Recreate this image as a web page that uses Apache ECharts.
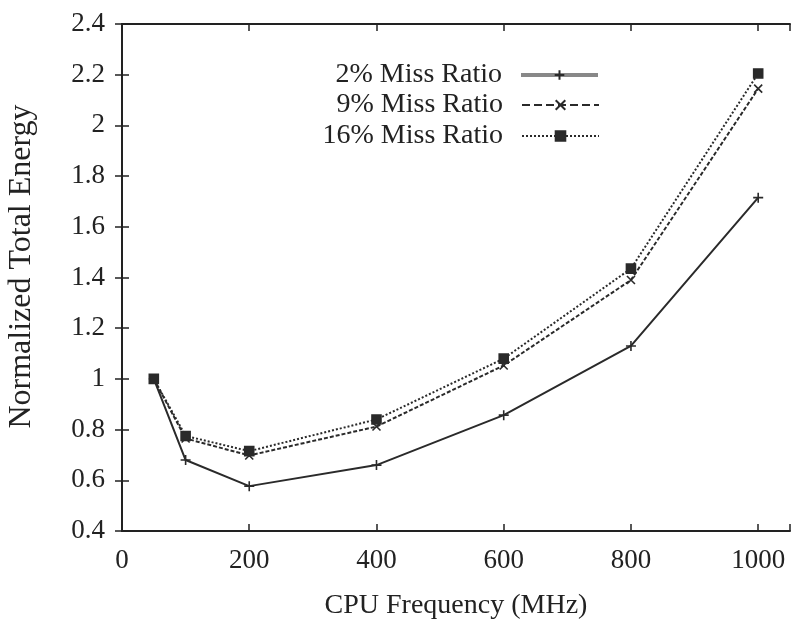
<!DOCTYPE html>
<html>
<head>
<meta charset="utf-8">
<script src="https://cdn.jsdelivr.net/npm/echarts@6/dist/echarts.min.js"></script>
<style>
  html, body { margin: 0; padding: 0; background: #fff; }
  #chart { width: 792px; height: 623px; }
</style>
</head>
<body>
<div id="chart"></div>
<script>
// 读图估计的数据（CPU 频率 vs 归一化总能耗）
const freqs = [50, 100, 200, 400, 600, 800, 1000];
const miss2 = [1.0, 0.68, 0.577, 0.66, 0.857, 1.13, 1.715];
const miss9 = [1.0, 0.765, 0.698, 0.812, 1.053, 1.39, 2.145];
const miss16 = [1.0, 0.775, 0.715, 0.84, 1.08, 1.435, 2.205];
const names = ["2% Miss Ratio", "9% Miss Ratio", "16% Miss Ratio"];

const FONT = "Liberation Serif";
const INK = "#2a2a2a";
const FS = 27;

const plus = "path://M0,-5L0,5M-5,0L5,0";
const cross = "path://M-4,-4L4,4M-4,4L4,-4";

const pts = (ys) => freqs.map((x, i) => [x, ys[i]]);

function series(name, ys, lineType, symbol, size, fill) {
  return {
    name,
    type: "line",
    data: pts(ys),
    symbol,
    symbolSize: size,
    showSymbol: true,
    lineStyle: { color: INK, width: 2, type: lineType },
    itemStyle: { color: fill, borderColor: INK, borderWidth: 1.6 },
    emphasis: { disabled: true },
    z: 3,
  };
}

function legendRow(name, top, lineStyle) {
  return {
    data: [name],
    right: 192,
    top,
    align: "right",
    orient: "vertical",
    itemWidth: 77,
    itemHeight: 12,
    itemGap: 0,
    padding: 0,
    selectedMode: false,
    textStyle: { fontFamily: FONT, fontSize: 28, color: "#222", padding: [0, 14, 0, 0] },
    lineStyle,
  };
}

const chart = echarts.init(document.getElementById("chart"));

const axisLine = { show: true, lineStyle: { color: "#222", width: 2 } };
const tickIn = { show: true, inside: true, length: 7, lineStyle: { color: "#222", width: 1.5 } };

chart.setOption({
  animation: false,
  grid: { left: 122, right: 2, top: 24, bottom: 92, outerBoundsMode: "none", containLabel: false },
  legend: [
    legendRow(names[0], 61, { color: "#888", width: 4, type: "solid" }),
    legendRow(names[1], 91, { color: INK, width: 2, type: "dashed" }),
    legendRow(names[2], 122, { color: INK, width: 2, type: "dotted" }),
  ],
  xAxis: [
    {
      type: "value",
      min: 0,
      max: 1050,
      interval: 200,
      name: "CPU Frequency (MHz)",
      nameLocation: "middle",
      nameGap: 61,
      nameTextStyle: { fontFamily: FONT, fontSize: 28, color: "#222" },
      axisLine,
      axisTick: tickIn,
      splitLine: { show: false },
      axisLabel: {
        fontFamily: FONT,
        fontSize: FS,
        color: "#222",
        margin: 16,
        formatter: (v) => (v % 200 === 0 ? String(v) : ""),
      },
    },
    {
      type: "value",
      position: "top",
      min: 0,
      max: 1050,
      interval: 200,
      axisLine,
      axisTick: tickIn,
      axisLabel: { show: false },
      splitLine: { show: false },
    },
  ],
  yAxis: [
    {
      type: "value",
      min: 0.4,
      max: 2.4,
      interval: 0.2,
      name: "Normalized Total Energy",
      nameLocation: "middle",
      nameGap: 84,
      nameTextStyle: { fontFamily: FONT, fontSize: 32, color: "#222", padding: [0, 0, 0, 22] },
      axisLine,
      axisTick: tickIn,
      splitLine: { show: false },
      axisLabel: {
        fontFamily: FONT,
        fontSize: FS,
        color: "#222",
        margin: 17,
        formatter: (v) => String(Math.round(v * 10) / 10),
      },
    },
    {
      type: "value",
      position: "right",
      min: 0.4,
      max: 2.4,
      interval: 0.2,
      axisLine,
      axisTick: tickIn,
      axisLabel: { show: false },
      splitLine: { show: false },
    },
  ],
  series: [
    series(names[0], miss2, "solid", plus, 10, "none"),
    series(names[1], miss9, [4, 2], cross, 8, "none"),
    series(names[2], miss16, [2, 2], "rect", 9, INK),
  ],
});
</script>
</body>
</html>
